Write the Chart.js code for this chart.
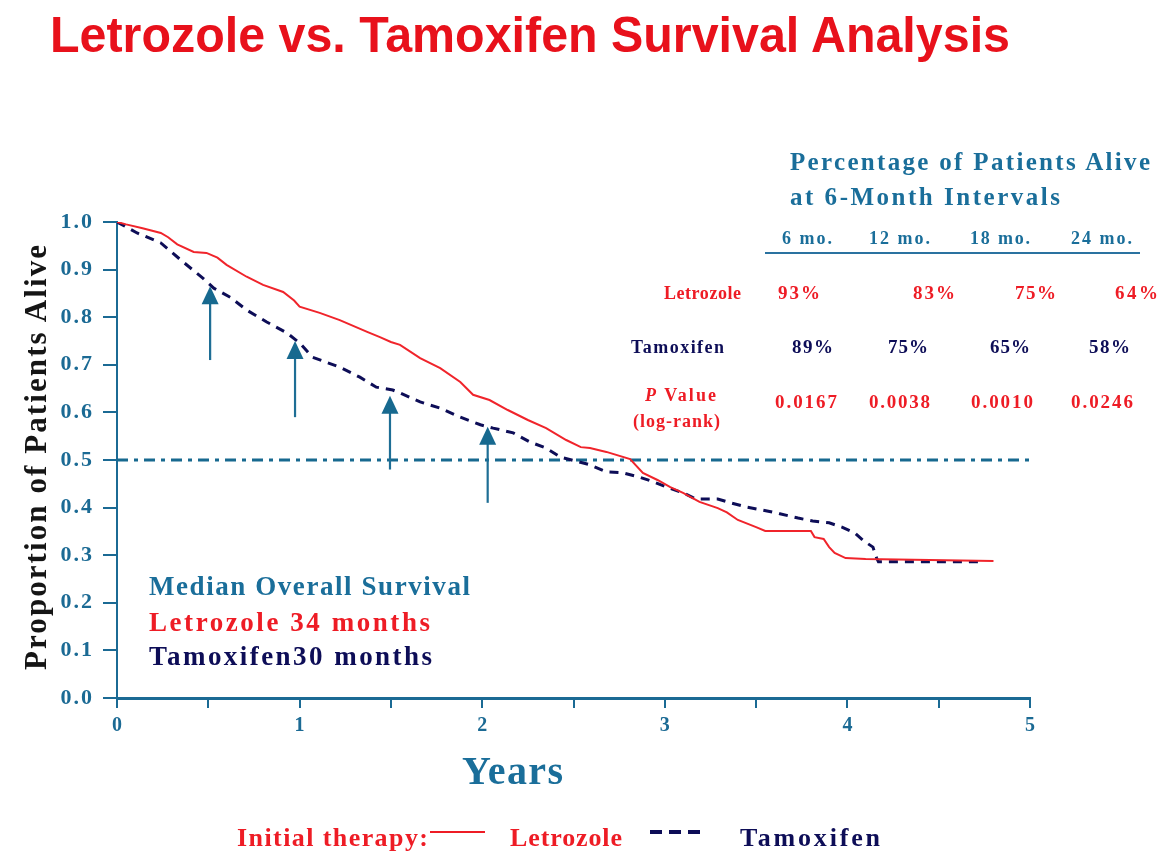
<!DOCTYPE html>
<html>
<head>
<meta charset="utf-8">
<script src="https://cdn.jsdelivr.net/npm/chart.js@4.4.1/dist/chart.umd.min.js"></script>
<style>
  html,body{margin:0;padding:0;background:#fff;}
  #wrap{position:relative;width:1162px;height:852px;overflow:hidden;background:#fff;}
  #c{position:absolute;left:0;top:0;}
  .t{position:absolute;white-space:nowrap;line-height:1;font-family:"Liberation Serif","Times New Roman",serif;font-weight:bold;}
  #title{font-family:"Liberation Sans",Arial,sans-serif;font-weight:bold;color:#E8111B;transform-origin:0 0;}
  .blue{color:#1A6E9A;}
  .red{color:#EE1C25;}
  .navy{color:#0D0D57;}
</style>
</head>
<body>
<div id="wrap">
  <canvas id="c" width="1162" height="852"></canvas>

  <div id="title" class="t" data-x="50" data-y="34" data-fs="50" data-sw="960">Letrozole vs. Tamoxifen Survival Analysis</div>

  <div class="t blue" data-x="790" data-y="162" data-fs="25" data-w="360">Percentage of Patients Alive</div>
  <div class="t blue" data-x="790" data-y="197" data-fs="25" data-w="270">at 6-Month Intervals</div>

  <div class="t blue" data-x="782" data-y="238" data-fs="18" data-w="50">6 mo.</div>
  <div class="t blue" data-x="869" data-y="238" data-fs="18" data-w="61">12 mo.</div>
  <div class="t blue" data-x="970" data-y="238" data-fs="18" data-w="60">18 mo.</div>
  <div class="t blue" data-x="1071" data-y="238" data-fs="18" data-w="61">24 mo.</div>
  <div style="position:absolute;left:765px;top:252px;width:375px;height:2px;background:#2A72A0;"></div>

  <div class="t red" data-x="664" data-y="293" data-fs="18" data-w="77">Letrozole</div>
  <div class="t red" data-x="778" data-y="293" data-fs="19" data-w="42">93%</div>
  <div class="t red" data-x="913" data-y="293" data-fs="19" data-w="42">83%</div>
  <div class="t red" data-x="1015" data-y="293" data-fs="19" data-w="41">75%</div>
  <div class="t red" data-x="1115" data-y="293" data-fs="19" data-w="43">64%</div>

  <div class="t navy" data-x="631" data-y="347" data-fs="18" data-w="93">Tamoxifen</div>
  <div class="t navy" data-x="792" data-y="347" data-fs="19" data-w="41">89%</div>
  <div class="t navy" data-x="888" data-y="347" data-fs="19" data-w="40">75%</div>
  <div class="t navy" data-x="990" data-y="347" data-fs="19" data-w="40">65%</div>
  <div class="t navy" data-x="1089" data-y="347" data-fs="19" data-w="41">58%</div>

  <div class="t red" data-x="645" data-y="395" data-fs="18" data-w="71"><i>P</i> Value</div>
  <div class="t red" data-x="633" data-y="421" data-fs="18" data-w="87">(log-rank)</div>
  <div class="t red" data-x="775" data-y="402" data-fs="19" data-w="62">0.0167</div>
  <div class="t red" data-x="869" data-y="402" data-fs="19" data-w="61">0.0038</div>
  <div class="t red" data-x="971" data-y="402" data-fs="19" data-w="62">0.0010</div>
  <div class="t red" data-x="1071" data-y="402" data-fs="19" data-w="62">0.0246</div>

  <div class="t blue" data-x="149" data-y="587" data-fs="27" data-w="321">Median Overall Survival</div>
  <div class="t red" data-x="149" data-y="623" data-fs="27" data-w="281">Letrozole 34 months</div>
  <div class="t navy" data-x="149" data-y="657" data-fs="27" data-w="283">Tamoxifen30 months</div>

  <div class="t blue" data-x="462" data-y="771" data-fs="40" data-w="101">Years</div>
  <div id="ytitle" class="t" style="color:#151515;">Proportion of Patients Alive</div>

  <div class="t red" data-x="237" data-y="838" data-fs="26" data-w="191">Initial therapy:</div>
  <div style="position:absolute;left:430px;top:831px;width:55px;height:2px;background:#EE1C25;"></div>
  <div class="t red" data-x="510" data-y="838" data-fs="26" data-w="112">Letrozole</div>
  <div style="position:absolute;left:650px;top:830px;width:12px;height:4px;background:#0D0D57;"></div>
  <div style="position:absolute;left:669px;top:830px;width:12px;height:4px;background:#0D0D57;"></div>
  <div style="position:absolute;left:688px;top:830px;width:12px;height:4px;background:#0D0D57;"></div>
  <div class="t navy" data-x="740" data-y="838" data-fs="26" data-w="140">Tamoxifen</div>
</div>

<script>
// ---------- DATA ----------
const letrozoleYears = [0,0.05,0.14,0.24,0.28,0.33,0.42,0.49,0.55,0.60,0.71,0.80,0.91,0.97,1.00,1.11,1.22,1.37,1.44,1.50,1.55,1.66,1.77,1.88,1.95,2.04,2.14,2.25,2.35,2.46,2.54,2.59,2.68,2.81,2.88,2.96,3.03,3.10,3.19,3.29,3.34,3.40,3.50,3.55,3.80,3.82,3.87,3.90,3.93,3.99,4.10,4.80];
const letrozoleSurv  = [1.0,0.995,0.987,0.977,0.968,0.953,0.937,0.935,0.925,0.910,0.885,0.868,0.853,0.835,0.822,0.809,0.794,0.769,0.758,0.748,0.742,0.714,0.693,0.664,0.637,0.626,0.605,0.584,0.567,0.542,0.527,0.525,0.517,0.502,0.473,0.458,0.443,0.431,0.412,0.399,0.390,0.374,0.359,0.351,0.351,0.338,0.334,0.317,0.305,0.294,0.292,0.288];

const tamoxifenYears = [0,0.03,0.11,0.24,0.35,0.47,0.53,0.62,0.71,0.82,0.93,1.00,1.07,1.22,1.33,1.42,1.51,1.55,1.66,1.77,1.88,1.99,2.06,2.17,2.26,2.35,2.43,2.52,2.59,2.68,2.77,2.86,2.94,3.01,3.10,3.17,3.29,3.36,3.45,3.56,3.63,3.73,3.81,3.90,3.97,4.04,4.09,4.14,4.16,4.17,4.75];
const tamoxifenSurv  = [1.0,0.994,0.977,0.956,0.920,0.882,0.861,0.842,0.815,0.790,0.767,0.746,0.716,0.695,0.674,0.653,0.647,0.641,0.622,0.609,0.590,0.574,0.567,0.557,0.538,0.525,0.506,0.497,0.490,0.475,0.473,0.464,0.454,0.443,0.431,0.418,0.418,0.410,0.401,0.393,0.387,0.378,0.372,0.368,0.359,0.347,0.330,0.317,0.294,0.286,0.286];

const medianLineYears = [0, 5];
const medianLineValue = [0.5, 0.5];

const arrowYears = [0.51, 0.975, 1.495, 2.03];
const arrowFrom  = [0.71, 0.59, 0.48, 0.41];
const arrowTo    = [0.865, 0.75, 0.635, 0.57];

const yTickValues = [0,0.1,0.2,0.3,0.4,0.5,0.6,0.7,0.8,0.9,1.0];
const xTickLabels = ['0','1','2','3','4','5'];

// ---------- COLORS ----------
const AXIS = '#1B6A94';
const RED = '#F0242B';
const NAVY = '#0D0D57';

// ---------- TEXT LAYOUT ----------
document.querySelectorAll('.t[data-x]').forEach(el => {
  const fs = +el.dataset.fs;
  el.style.fontSize = fs + 'px';
  el.style.left = el.dataset.x + 'px';
  const isSans = el.id === 'title';
  el.style.top = (+el.dataset.y - (isSans ? 0.488 : 0.51) * fs) + 'px';
  const nat = el.getBoundingClientRect().width;
  if (el.dataset.w) {
    const n = el.textContent.length;
    const ls = (+el.dataset.w - nat) / Math.max(1, n - 1);
    el.style.letterSpacing = ls + 'px';
  }
  if (el.dataset.sw) {
    el.style.transform = 'scaleX(' + (+el.dataset.sw / nat) + ')';
  }
});
(function(){
  const el = document.getElementById('ytitle');
  const fs = 31;
  el.style.fontSize = fs + 'px';
  const nat = el.getBoundingClientRect().width;
  const target = 425;
  const n = el.textContent.length;
  el.style.letterSpacing = ((target - nat) / (n - 1)) + 'px';
  const w = target + 10, h = fs;
  const cx = 30, cy = 452;
  el.style.width = w + 'px';
  el.style.top = (cy - h / 2) + 'px';
  el.style.left = (cx - target / 2) + 'px';
  el.style.transformOrigin = '50% 50%';
  el.style.transform = 'rotate(-90deg)';
})();

// ---------- CHART ----------
const toXY = (xs, ys) => xs.map((x, i) => ({x, y: ys[i]}));

const spacingPlugin = {
  id: 'spacing',
  beforeDraw(chart) { chart.ctx.letterSpacing = '2px'; },
  beforeDatasetsDraw(chart) { chart.ctx.letterSpacing = '0px'; }
};

const arrowPlugin = {
  id: 'arrows',
  afterDatasetsDraw(chart) {
    const {ctx, scales: {x, y}} = chart;
    ctx.save();
    ctx.fillStyle = '#17698F';
    ctx.strokeStyle = '#1E6E95';
    ctx.lineWidth = 2.2;
    arrowYears.forEach((yr, i) => {
      const px = x.getPixelForValue(yr);
      const y1 = y.getPixelForValue(arrowFrom[i]);
      const y2 = y.getPixelForValue(arrowTo[i]);
      const headH = 18, headW = 17;
      ctx.beginPath();
      ctx.moveTo(px, y1);
      ctx.lineTo(px, y2 + headH - 2);
      ctx.stroke();
      ctx.beginPath();
      ctx.moveTo(px, y2);
      ctx.lineTo(px - headW / 2, y2 + headH);
      ctx.lineTo(px + headW / 2, y2 + headH);
      ctx.closePath();
      ctx.fill();
    });
    ctx.restore();
  }
};

new Chart(document.getElementById('c'), {
  type: 'line',
  data: {
    datasets: [
      {
        label: 'Median',
        data: toXY(medianLineYears, medianLineValue),
        borderColor: '#17698F',
        borderWidth: 3,
        borderDash: [11, 6, 4, 6],
        pointRadius: 0,
        order: 3
      },
      {
        label: 'Tamoxifen',
        data: toXY(tamoxifenYears, tamoxifenSurv),
        borderColor: NAVY,
        borderWidth: 3,
        borderDash: [9, 7],
        pointRadius: 0,
        order: 2
      },
      {
        label: 'Letrozole',
        data: toXY(letrozoleYears, letrozoleSurv),
        borderColor: RED,
        borderWidth: 2,
        pointRadius: 0,
        order: 1
      }
    ]
  },
  options: {
    responsive: false,
    animation: false,
    devicePixelRatio: 1,
    layout: { padding: { left: 0, top: 222, right: 132, bottom: 0 } },
    plugins: { legend: { display: false }, tooltip: { enabled: false }, title: { display: false } },
    scales: {
      x: {
        type: 'linear',
        min: 0, max: 5,
        afterFit(s) { s.height = 154; },
        border: { color: AXIS, width: 3 },
        grid: { drawOnChartArea: false, drawTicks: true, tickLength: 10, color: AXIS, lineWidth: 2 },
        ticks: {
          stepSize: 0.5,
          autoSkip: false,
          maxRotation: 0,
          padding: 6,
          labelOffset: 1,
          color: AXIS,
          font: { family: '"Liberation Serif", serif', weight: 'bold', size: 20 },
          callback: (v) => Number.isInteger(v) ? xTickLabels[v] : ''
        }
      },
      y: {
        type: 'linear',
        min: 0, max: 1,
        afterFit(s) { s.width = 117; },
        afterBuildTicks(s) { s.ticks = yTickValues.map(v => ({value: v})); },
        border: { color: AXIS, width: 2 },
        grid: { drawOnChartArea: false, drawTicks: true, tickLength: 14, color: AXIS, lineWidth: 2 },
        ticks: {
          padding: 9,
          color: AXIS,
          font: { family: '"Liberation Serif", serif', weight: 'bold', size: 22 },
          callback: (v) => v.toFixed(1)
        }
      }
    }
  },
  plugins: [spacingPlugin, arrowPlugin]
});
</script>
</body>
</html>
